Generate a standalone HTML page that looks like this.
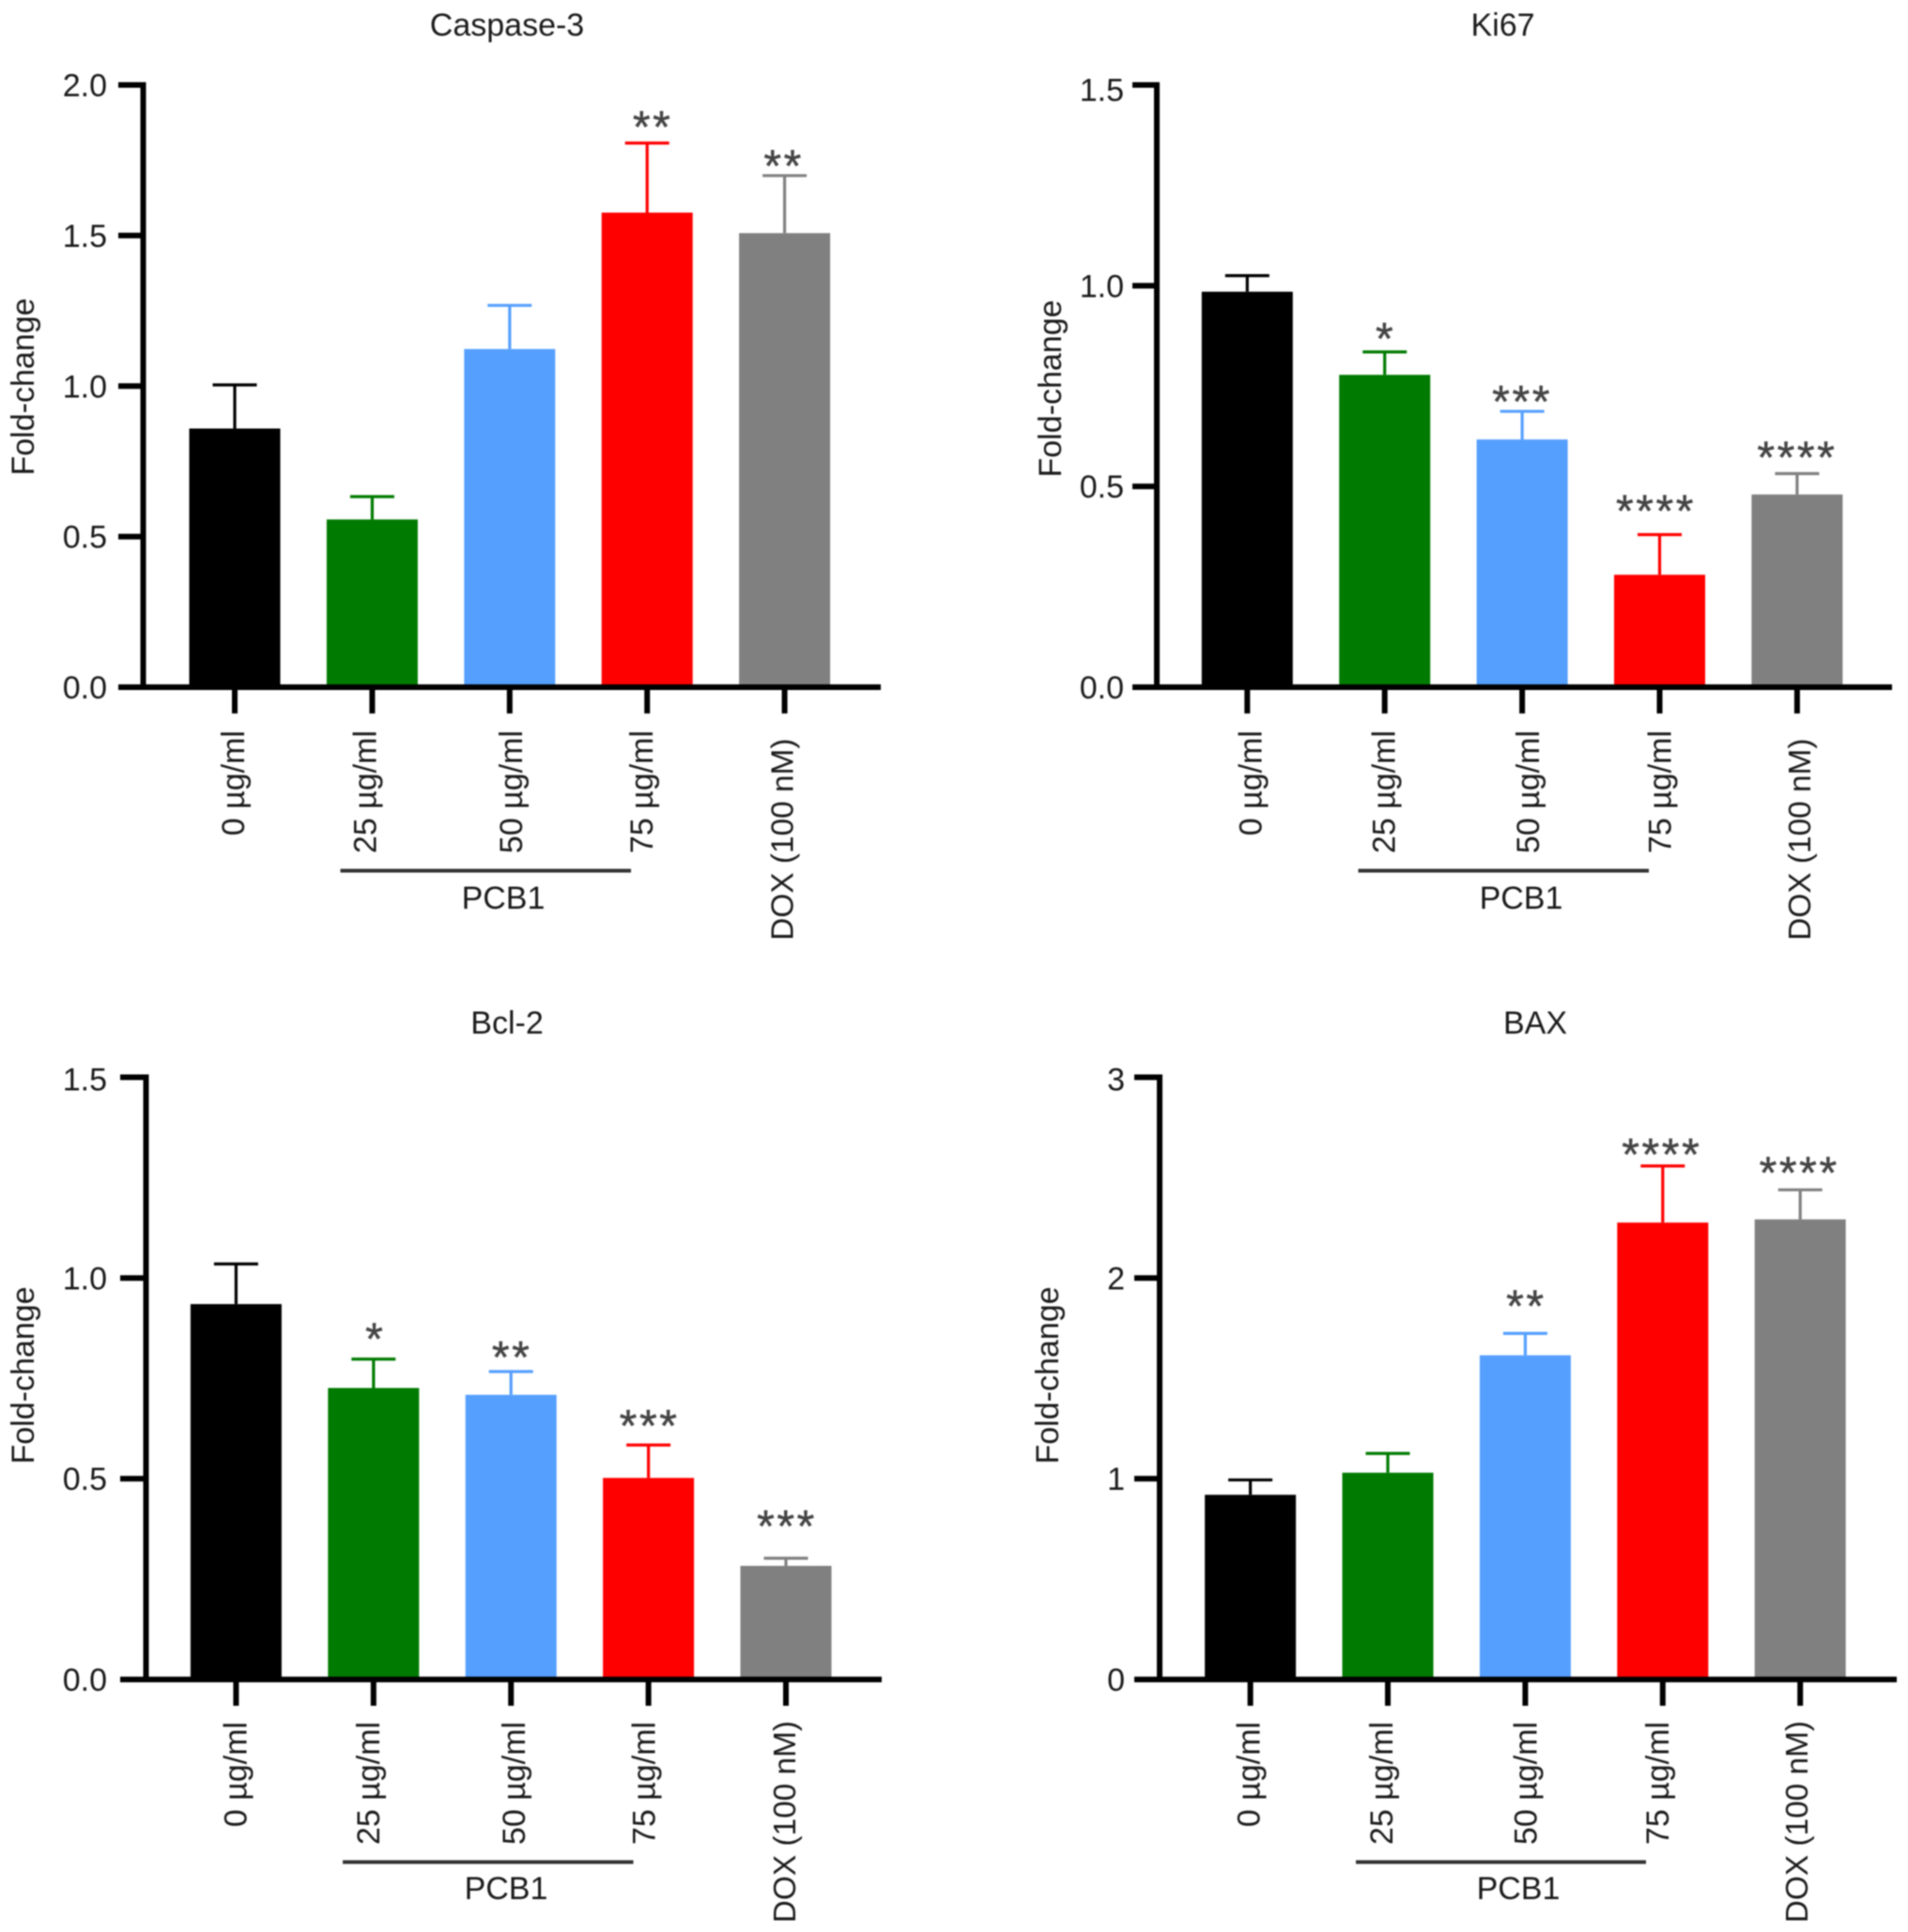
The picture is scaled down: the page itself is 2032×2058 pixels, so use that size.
<!DOCTYPE html>
<html lang="en">
<head>
<meta charset="utf-8">
<title>Fold-change bar charts</title>
<style>
  html, body { margin: 0; padding: 0; background: #fff; }
  #figure { display: block; width: 2032px; height: 2058px; filter: blur(0.7px); }
  text { font-family: "Liberation Sans", sans-serif; fill: #1a1a1a; }
</style>
</head>
<body>
<svg id="figure" xmlns="http://www.w3.org/2000/svg" width="2032" height="2058" viewBox="0 0 2032 2058"></svg>
<script>
// ---- data ----
const categories = ['0 µg/ml', '25 µg/ml', '50 µg/ml', '75 µg/ml', 'DOX (100 nM)'];
const barColors = ['#000000', '#007a00', '#559fff', '#ff0000', '#808080'];
const groupLabel = 'PCB1';

const caspaseTitle = 'Caspase-3';
const caspaseValues = [0.859, 0.557, 1.123, 1.576, 1.508];
const caspaseErrors = [0.145, 0.076, 0.145, 0.231, 0.191];
const caspaseStars = ['', '', '', '**', '**'];
const caspaseTicks = ['0.0', '0.5', '1.0', '1.5', '2.0'];

const ki67Title = 'Ki67';
const ki67Values = [0.985, 0.778, 0.617, 0.28, 0.48];
const ki67Errors = [0.04, 0.057, 0.07, 0.1, 0.052];
const ki67Stars = ['', '*', '***', '****', '****'];
const ki67Ticks = ['0.0', '0.5', '1.0', '1.5'];

const bcl2Title = 'Bcl-2';
const bcl2Values = [0.935, 0.726, 0.709, 0.502, 0.283];
const bcl2Errors = [0.1, 0.072, 0.058, 0.082, 0.019];
const bcl2Stars = ['', '*', '**', '***', '***'];
const bcl2Ticks = ['0.0', '0.5', '1.0', '1.5'];

const baxTitle = 'BAX';
const baxValues = [0.92, 1.03, 1.615, 2.276, 2.292];
const baxErrors = [0.074, 0.096, 0.109, 0.282, 0.147];
const baxStars = ['', '', '**', '****', '****'];
const baxTicks = ['0', '1', '2', '3'];

// ---- panel layouts (pixels, separate from the data) ----
const panels = [
  { key: 'caspase', title: caspaseTitle, values: caspaseValues, errors: caspaseErrors, stars: caspaseStars, ticks: caspaseTicks,
    axisX: 152.5, tickStart: 126, axisEnd: 938, topY: 90.5, baseY: 732, first: 250, titleX: 540, titleY: 38,
    yTitleX: 36, yTitleY: 412, tickRight: 114, topLabelDy: 0, labelTop: 778, doxTop: 786.5,
    labelDx: [-2, -8, 1, -6, -3], lineX: [362.5, 672], lineY: 927.5, groupX: 536, groupY: 968,
    starDx: [0, 0, 0, 6, -1], starLift: [0, 0, 0, 23, 16] },
  { key: 'ki67', title: ki67Title, values: ki67Values, errors: ki67Errors, stars: ki67Stars, ticks: ki67Ticks,
    axisX: 1232, tickStart: 1206, axisEnd: 2015, topY: 90.5, baseY: 732, first: 1328.3, titleX: 1600.5, titleY: 38,
    yTitleX: 1130, yTitleY: 414, tickRight: 1197, topLabelDy: 5, labelTop: 778, doxTop: 786.5,
    labelDx: [3, -1, 6, 0, 2], lineX: [1446.5, 1756], lineY: 927.5, groupX: 1620, groupY: 968,
    starDx: [0, 1, 0, -4, 0], starLift: [0, 20, 16, 31, 23] },
  { key: 'bcl2', title: bcl2Title, values: bcl2Values, errors: bcl2Errors, stars: bcl2Stars, ticks: bcl2Ticks,
    axisX: 155.5, tickStart: 128, axisEnd: 939, topY: 1147.5, baseY: 1789, first: 251.4, titleX: 540, titleY: 1101,
    yTitleX: 36, yTitleY: 1465, tickRight: 114, topLabelDy: 2, labelTop: 1834, doxTop: 1833,
    labelDx: [-1, -6, 3, -5, -2], lineX: [365, 674.5], lineY: 1983.5, groupX: 539, groupY: 2023,
    starDx: [0, 2, 1, 1, 1], starLift: [0, 27, 21, 26, 40] },
  { key: 'bax', title: baxTitle, values: baxValues, errors: baxErrors, stars: baxStars, ticks: baxTicks,
    axisX: 1235, tickStart: 1208, axisEnd: 2020, topY: 1147.5, baseY: 1789, first: 1331.6, titleX: 1635, titleY: 1101,
    yTitleX: 1127, yTitleY: 1465, tickRight: 1198, topLabelDy: 2, labelTop: 1834, doxTop: 1833,
    labelDx: [-2, -7, 0, -6, -4], lineX: [1444, 1753], lineY: 1983.5, groupX: 1617, groupY: 2023,
    starDx: [0, 0, 1, -1, -1], starLift: [0, 0, 35, 18, 24] }
];

const STEP = 146.4, BAR_W = 97, CAP_W = 47, AXIS_W = 6, ERR_W = 3.2, FONT = 34, DOX_FONT = 33.4;
const svg = document.getElementById('figure');
const NS = 'http://www.w3.org/2000/svg';

function mk(tag, parent, attrs, txt) {
  const el = document.createElementNS(NS, tag);
  for (const k in attrs) el.setAttribute(k, attrs[k]);
  if (txt !== undefined) el.textContent = txt;
  parent.appendChild(el);
  return el;
}

panels.forEach(function (p) {
  const g = mk('g', svg, {});
  
  

  const yMax = parseFloat(p.ticks[p.ticks.length - 1]);
  const yScale = function (v) { return p.baseY - (v / yMax) * (p.baseY - p.topY); };
  const xScale = function (i) { return p.first + i * STEP; };

  const title = mk('text', g, { x: p.titleX, y: p.titleY, 'text-anchor': 'middle', 'font-size': FONT }, p.title);
  
  

  const yTitle = mk('text', g, { x: 0, y: 0, 'text-anchor': 'middle', 'font-size': FONT,
    transform: 'translate(' + p.yTitleX + ' ' + p.yTitleY + ') rotate(-90)' }, 'Fold-change');
  
  

  // bars and error bars
  p.values.forEach(function (v, i) {
    const cx = xScale(i);
    const color = barColors[i];
    const yTop = yScale(v);
    const yErr = yScale(v + p.errors[i]);

    const stem = mk('line', g, { x1: cx, x2: cx, y1: yTop, y2: yErr, stroke: color, 'stroke-width': ERR_W });
    
    

    const cap = mk('line', g, { x1: cx - CAP_W / 2, x2: cx + CAP_W / 2, y1: yErr, y2: yErr, stroke: color, 'stroke-width': ERR_W });
    
    

    const bar = mk('rect', g, { x: cx - BAR_W / 2, y: yTop, width: BAR_W, height: p.baseY - yTop, fill: color });
    
    

    if (p.stars[i]) {
      const star = mk('text', g, { x: cx + p.starDx[i], y: yErr - p.starLift[i] + 22, 'text-anchor': 'middle',
        'font-size': 48, 'letter-spacing': 2.6, style: 'fill:#444;stroke:#444;stroke-width:0.5' }, p.stars[i]);
      
      
    }

    const tick = mk('line', g, { x1: cx, x2: cx, y1: p.baseY, y2: p.baseY + 28, stroke: '#000', 'stroke-width': AXIS_W });
    
    

    const top = i === 4 ? p.doxTop : p.labelTop;
    const lx = cx + p.labelDx[i] + 12;
    const label = mk('text', g, { x: 0, y: 0, 'text-anchor': 'end', 'font-size': i === 4 ? DOX_FONT : FONT,
      transform: 'translate(' + lx + ' ' + top + ') rotate(-90)' }, categories[i]);
    
    
  });

  // axes
  const yAxis = mk('line', g, { x1: p.axisX, x2: p.axisX, y1: p.topY - AXIS_W / 2, y2: p.baseY + AXIS_W / 2, stroke: '#000', 'stroke-width': AXIS_W });
  
  

  const xAxis = mk('line', g, { x1: p.tickStart, x2: p.axisEnd, y1: p.baseY, y2: p.baseY, stroke: '#000', 'stroke-width': AXIS_W });
  
  

  p.ticks.forEach(function (t, ti) {
    const y = yScale(parseFloat(t));
    const tick = mk('line', g, { x1: p.tickStart, x2: p.axisX, y1: y, y2: y, stroke: '#000', 'stroke-width': AXIS_W });
    
    

    const dy = ti === p.ticks.length - 1 ? p.topLabelDy : 0;
    const label = mk('text', g, { x: p.tickRight, y: y + 12 + dy, 'text-anchor': 'end', 'font-size': FONT }, t);
    
    
  });

  // PCB1 group bracket
  const bracket = mk('line', g, { x1: p.lineX[0], x2: p.lineX[1], y1: p.lineY, y2: p.lineY, stroke: '#333', 'stroke-width': 4 });
  
  

  const group = mk('text', g, { x: p.groupX, y: p.groupY, 'text-anchor': 'middle', 'font-size': FONT }, groupLabel);
  
  
});
</script>
</body>
</html>
